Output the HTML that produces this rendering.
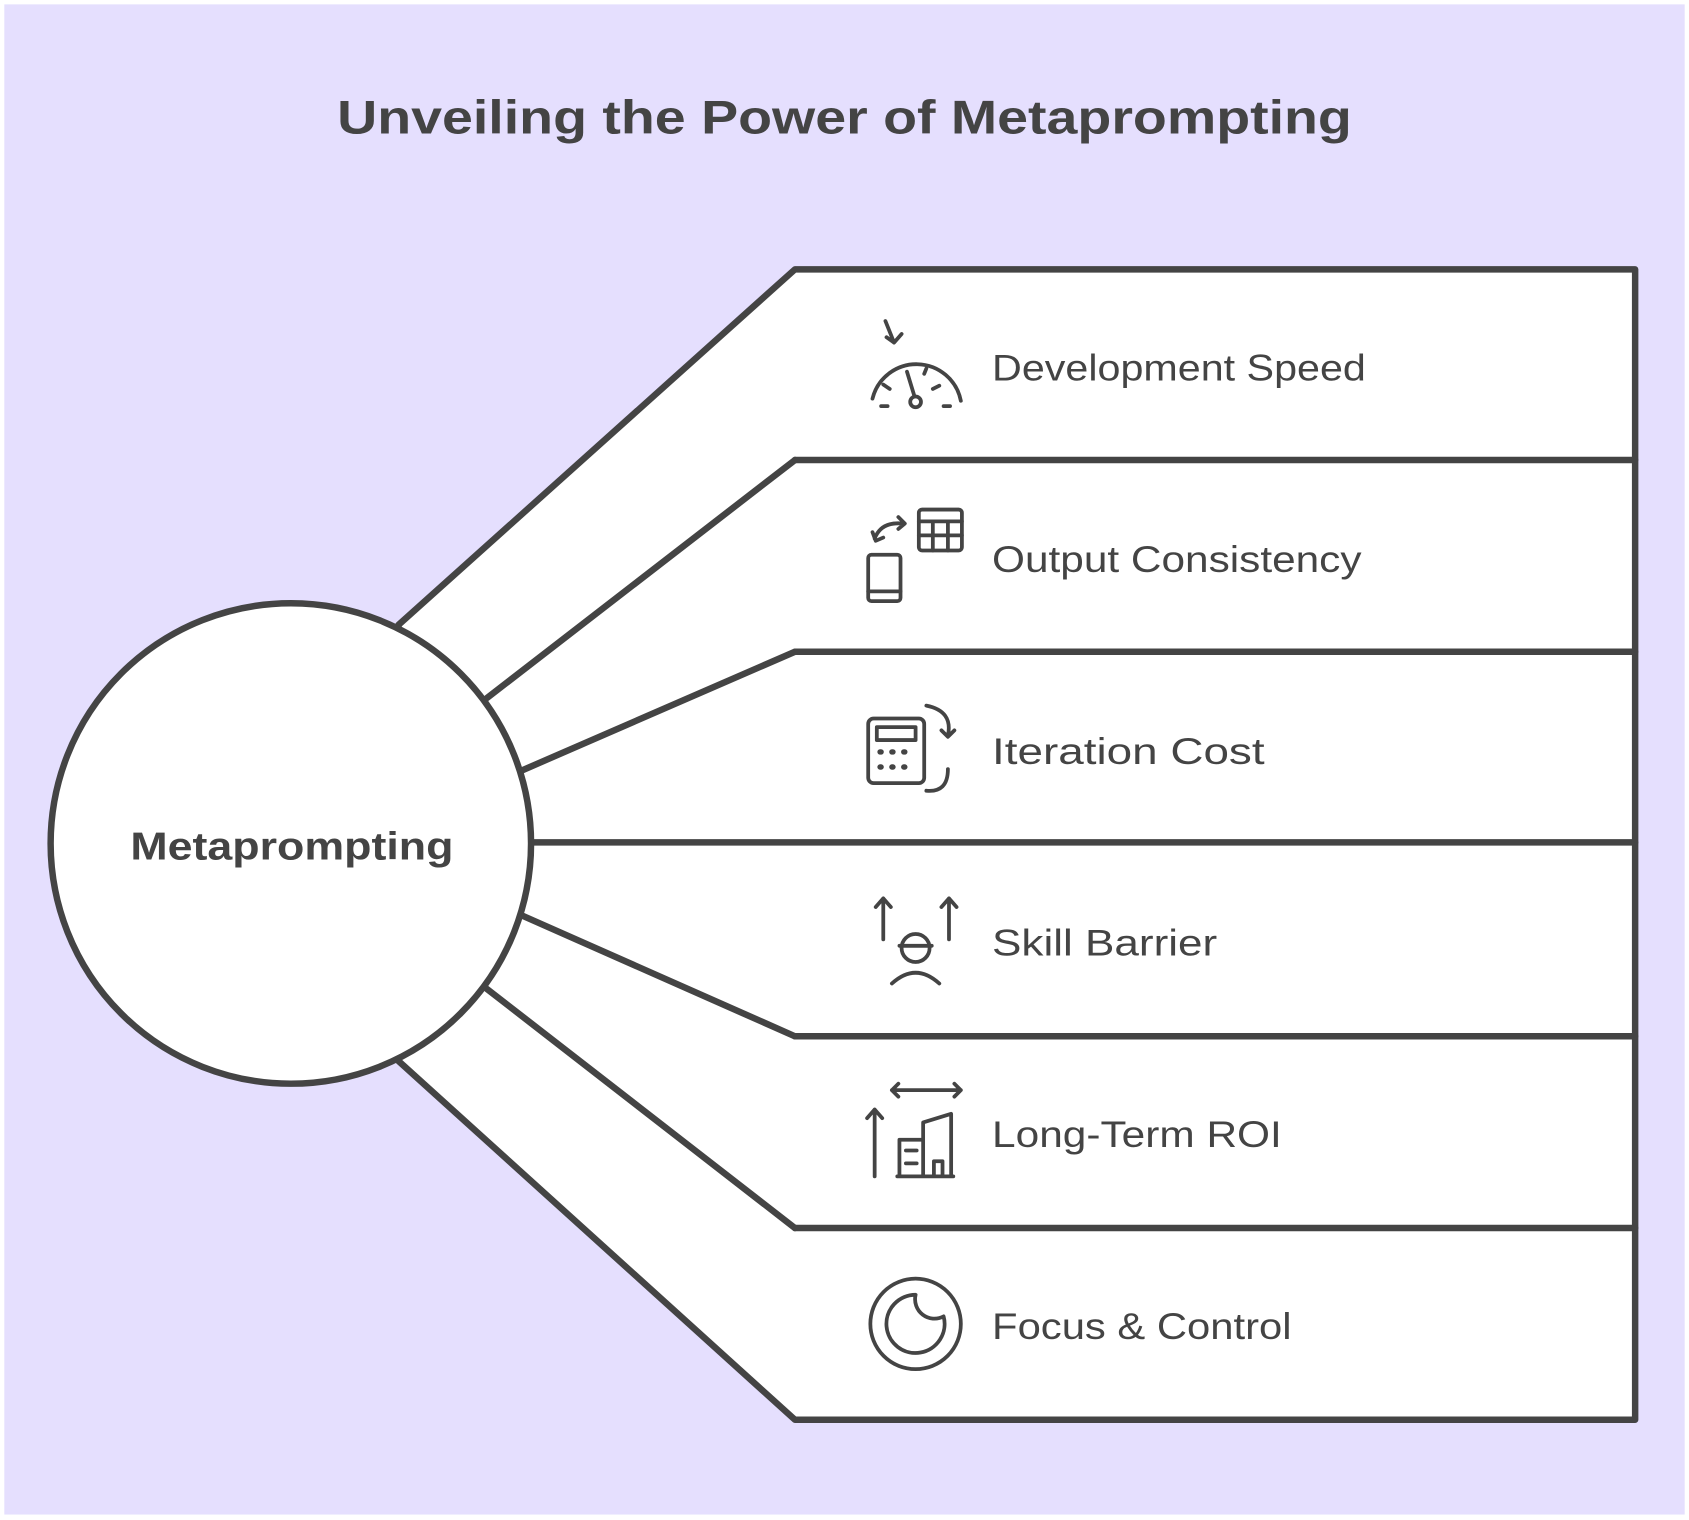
<!DOCTYPE html>
<html><head><meta charset="utf-8"><style>
html,body{margin:0;padding:0;background:#fff;}
svg{display:block;}
text{font-family:"Liberation Sans",sans-serif;fill:#444;}
</style></head><body>
<svg width="1689" height="1520" viewBox="0 0 1568 1411" xmlns="http://www.w3.org/2000/svg">
<rect x="4" y="4" width="1560" height="1402" fill="#E5DFFE"/>
<text x="313" y="124" font-size="44" font-weight="bold" textLength="942" lengthAdjust="spacingAndGlyphs">Unveiling the Power of Metaprompting</text>
<g stroke="#444" stroke-width="6" stroke-linejoin="round" stroke-linecap="round">
<path d="M370,580 L738,250 L1518,250 L1518,1318 L738,1318 L370,985 Z" fill="#fff"/>
<g fill="none">
<line x1="738" y1="427" x2="1518" y2="427"/>
<line x1="738" y1="605" x2="1518" y2="605"/>
<line x1="493" y1="782" x2="1518" y2="782"/>
<line x1="738" y1="962" x2="1518" y2="962"/>
<line x1="738" y1="1140" x2="1518" y2="1140"/>
<line x1="452" y1="648" x2="738" y2="427"/>
<line x1="485" y1="715" x2="738" y2="605"/>
<line x1="485" y1="850" x2="738" y2="962"/>
<line x1="452" y1="918" x2="738" y2="1140"/>
</g>
<circle cx="270" cy="783" r="223" fill="#fff"/>
</g>
<text x="121" y="798" font-size="36" font-weight="bold" textLength="300" lengthAdjust="spacingAndGlyphs">Metaprompting</text>
<g font-size="34">
<text x="921" y="353" textLength="347" lengthAdjust="spacingAndGlyphs">Development Speed</text>
<text x="921" y="531" textLength="343" lengthAdjust="spacingAndGlyphs">Output Consistency</text>
<text x="921" y="709" textLength="253" lengthAdjust="spacingAndGlyphs">Iteration Cost</text>
<text x="921" y="887" textLength="209" lengthAdjust="spacingAndGlyphs">Skill Barrier</text>
<text x="921" y="1065" textLength="269" lengthAdjust="spacingAndGlyphs">Long-Term ROI</text>
<text x="921" y="1243" textLength="278" lengthAdjust="spacingAndGlyphs">Focus &amp; Control</text>
</g>
<g stroke="#444" stroke-width="3.5" fill="none" stroke-linecap="round" stroke-linejoin="round">
<path d="M810,370 A42,42 0 0 1 892,372"/><line x1="842" y1="345" x2="849" y2="368"/><circle cx="850" cy="373" r="5"/>
<path d="M822,298 L830,318 M823,313 L830,318 L837,310"/>
<path d="M820,357 l6,4 M872,358 l-6,3 M818,377 h6 M876,377 h6 M858,347 l2,-5"/>
<rect x="806" y="515" width="30" height="43" rx="3"/><line x1="806" y1="549" x2="836" y2="549"/>
<rect x="853" y="473" width="40" height="38" rx="3"/><path d="M853,484 h40 M853,497 h40 M866,484 v27 M880,484 v27"/>
<path d="M812,500 q6,-16 26,-14 M834,480 l6,6 l-6,5 M810,494 l3,8 l7,-3"/>
<rect x="806" y="667" width="52" height="60" rx="5"/><rect x="814" y="675" width="36" height="12"/>
<path d="M817,698 h1 M828,698 h1 M839,698 h1 M817,712 h1 M828,712 h1 M839,712 h1" stroke-width="5"/>
<path d="M860,655 q25,5 20,28 M874,678 l6,6 l6,-6 M860,734 q20,2 20,-20"/>
<circle cx="850" cy="880" r="13"/><path d="M835,878 h30 M828,913 q22,-20 44,0"/>
<path d="M820,872 v-38 M813,842 l7,-8 l7,8 M881,872 v-38 M874,842 l7,-8 l7,8"/>
<path d="M812,1092 v-62 M805,1038 l7,-8 l7,8"/>
<path d="M828,1012 h64 M834,1006 l-6,6 l6,6 M886,1006 l6,6 l-6,6"/>
<path d="M833,1092 h52 M835,1092 v-34 h22 v34 M857,1092 v-50 l26,-8 v58 M841,1068 h10 M841,1080 h10 M867,1092 v-14 h8 v14"/>
<circle cx="850" cy="1229" r="42"/><path d="M850,1202 a27,27 0 1 0 26,20 a18,18 0 0 1 -26,-20 z"/>
</g>
</svg>
</body></html>
